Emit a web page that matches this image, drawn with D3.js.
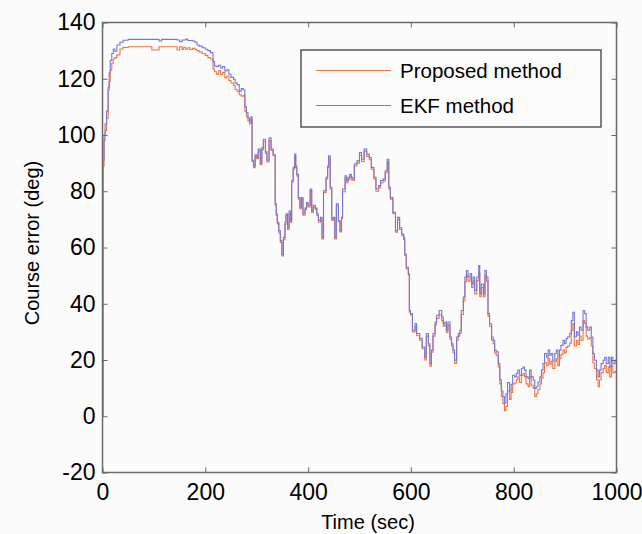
<!DOCTYPE html>
<html>
<head>
<meta charset="utf-8">
<script src="https://cdn.jsdelivr.net/npm/d3@7"></script>
<style>
  html, body { margin: 0; padding: 0; background: #fbfbfb; }
  svg { display: block; }
  text { font-family: "Liberation Sans", Arial, Helvetica, sans-serif; fill: #000; }
</style>
</head>
<body>
<svg id="chart" width="642" height="534"></svg>
<script>
// ---- data ----
const time = [0,1,3,5,8,11,13,15,18,21,24,28,34,40,50,60,70,80,90,96,104,110,115,120,130,140,145,150,155,158,162,166,170,175,180,184,188,194,200,205,210,215,218,222,226,230,234,238,242,246,250,255,258,262,266,270,274,277,280,283,286,289,
291,294,297,300,303,307,310,313,317,320,324,328,332,336,338,340,343,346,349,352,355,357,360,363,366,368,371,374,376,378,381,384,387,390,394,397,400,404,407,410,414,417,420,424,427,430,435,438,440,443,446,449,452,455,459,462,465,467,472,475,478,481,484,487,490,495,500,504,509,514,519,523,528,532,537,541,546,550,554,557,560,565,570,574,578,582,586,588,591,595,597,599,
603,608,611,617,622,627,630,634,637,640,643,647,650,655,660,663,666,669,672,676,679,682,685,689,692,695,698,702,705,708,711,715,718,721,724,728,732,734,737,741,744,747,750,753,757,760,763,766,770,773,776,779,782,785,788,792,795,798,
802,805,808,811,815,818,821,824,828,831,834,838,841,844,847,851,854,857,860,864,867,870,873,876,880,883,886,889,892,896,899,902,905,909,912,915,918,922,925,928,931,935,938,941,944,948,951,954,957,961,964,967,970,974,977,980,984,987,990,993,997,1000];

const ekfError = [0,91,100,104,108.5,117,122,126.5,129,130.6,129.8,132,133,133.7,134,134,134,134,134,134,134,133.4,134,134,134,134,133.8,133.2,133.8,133.8,134.1,133.6,133.6,133.4,133,132,131.6,131,130.5,130,129.3,126,124.5,124.3,124.8,123.8,124.3,122.8,123.2,121.6,120.5,119.8,118.5,117.9,115.6,116.5,116,110,108,106,105,106.5,
91,89,93,92,95,90,95.5,98.5,94,91,99,95,93,75.6,72,69,66,62.5,57.5,63.6,69,72,67,73,69.6,83.8,88.5,93.2,89,86,77.8,74.3,77.8,72,74,76,75,80.8,73,75,74,72,69.6,70.7,63.6,80.2,85,89,92.6,81.4,70.2,70.7,63.6,75.5,69.6,66,70.7,80.8,85.5,83.8,85,86,85,84.4,89.7,90.8,93.8,91.4,95,93.2,92,88.5,85,80.8,82,83.8,84.4,87.3,91.4,81.4,77.8,72.5,66,70.7,67,64.8,63.6,57.8,53,50.7,37.6,36.5,
30.6,33,29.4,27.7,24.6,21,29.4,25.8,18.7,23.5,29.4,33.5,35.9,37.6,35.3,32.9,33.5,30.6,33.5,28.2,25.8,23.5,19.9,28.2,29.4,30.6,37.6,42.4,49.5,51.8,49.5,50.7,47,49.5,44.7,49.5,53.6,43.6,47,43.6,51.8,49.5,36.5,32.9,28.2,27,23.5,22.9,18.7,13,9,7,4.7,8,12,9,11.4,14.6,
14,15.2,16.4,14.6,17,17.5,16.4,14,13.4,16.4,14,12.8,9.9,10.5,12.2,14,16.4,18.7,22.3,21,23.5,21.7,22.3,19.9,22.3,23.5,21,23.5,25.2,27,25.8,27.6,28.2,29.4,34,37,28.2,30,28.8,31.7,30.6,37.6,36.5,31.7,30.6,31.7,28.2,22.3,19.9,16.4,14,16.4,18.7,19.9,21,18.7,21,17.5,21,18.7,19.9,18];

const proposedError = [0,89,98,101.5,106,116,119,123,125.5,127,127.5,128.5,130.6,131.1,131.4,131.4,131.4,131.4,131.4,130.2,130.2,131.4,131.4,131.4,131.4,131.4,130.2,131.4,130.4,131.2,130.5,131,130.4,130.8,130.4,130,129.5,129,128.3,127.5,127,123.5,122.5,121.6,122.8,121.5,122.2,120.4,120.9,119.4,118.5,117.7,116.2,115.4,114.3,113.8,114,108.5,106.5,105,104,105.5,
90.6,88.4,92.4,91.6,94.4,89.4,94.8,97.6,93.4,90.4,98,94.5,92.6,75,71.4,68.4,65.2,61.8,57,62.8,68.2,71.4,66.4,72,68.9,83.2,87.9,92.4,88.5,85.4,77.2,73.8,77.3,71.5,73.5,75.5,74.4,80.2,72.5,74.4,73.5,71.4,69,70.2,63,79.6,84.4,88.4,91.8,80.8,69.6,70.2,63,74.8,69.2,65.5,70.2,79.8,84.8,83,84.3,85.4,84,83.8,89,90,92.8,90.6,94.2,92.4,91.2,87.8,84.4,80,81.3,83,83.6,86.6,90.4,80.8,77.2,72,65.4,70,66.4,64.2,62.8,57.2,52.4,50.2,37.1,36,
30,32,28.6,27,24,20,28.5,25,17.8,22.8,28.5,32.5,34.8,36,34,32,32.4,29.8,32.5,27.3,25,22.5,18.8,27,28.5,29.5,36.2,41,47.8,50,48,49.2,45.8,48.2,43.5,48.2,51,42.5,45.8,42.5,50,48,35.5,32,27,25.8,22.5,21.5,17.5,11.5,7,4.5,2,3.5,9,6,8.5,11.5,
11.8,13,14,12,14.5,15.2,14,11.5,10.5,14,11,10,7,8,9.5,11.5,13.5,15.5,19,18,20.5,18.5,19.5,17,19.5,20.5,18,20.5,22,23.5,22.5,24.5,25,26,30.5,33,25,27,25.5,28.5,27,34,33,28.5,27.5,28,25,19,17,13,10.5,13,15.5,17,18,15.5,17.5,14,18,15.5,16,15];

const seriesNames = ["Proposed method", "EKF method"];
const seriesColors = ["#f2733d", "#7777d6"];
const xTicks = [0, 200, 400, 600, 800, 1000];
const yTicks = [-20, 0, 20, 40, 60, 80, 100, 120, 140];
const xLabel = "Time (sec)";
const yLabel = "Course error (deg)";

(function draw() {
  const svg = d3.select("#chart");
  const pLeft = 102.5, pRight = 616.5, pTop = 22.5, pBottom = 472.5;

  const x = d3.scaleLinear().domain([0, 1000]).range([pLeft, pRight]);
  const y = d3.scaleLinear().domain([-20, 140]).range([pBottom, pTop]);

  svg.append("rect").attr("width", 642).attr("height", 534).attr("fill", "#fbfbfb");

  const series = [
    { name: seriesNames[0], values: proposedError, color: seriesColors[0] },
    { name: seriesNames[1], values: ekfError, color: seriesColors[1] }
  ];
  const line = d3.line()
    .x((d, i) => x(time[i]))
    .y(d => y(d))
    .curve(d3.curveStepAfter);

  svg.append("g").selectAll("path")
    .data(series)
    .join("path")
    .attr("d", s => line(s.values))
    .attr("fill", "none")
    .attr("stroke", s => s.color)
    .attr("stroke-width", 1.1);

  const axisColor = "#6a6a6a";
  const fmt = d => String(d);
  function styleAxis(g, labels) {
    g.select(".domain").remove();
    g.selectAll(".tick line").attr("stroke", axisColor).attr("stroke-width", 1);
    g.selectAll(".tick text").attr("font-size", 23).attr("fill", "#000")
      .attr("font-family", "'Liberation Sans', Arial, sans-serif");
    if (!labels) g.selectAll(".tick text").remove();
  }

  svg.append("g").attr("transform", `translate(0,${pBottom})`)
    .call(d3.axisBottom(x).tickValues(xTicks).tickSize(-5).tickPadding(11).tickFormat(fmt))
    .call(g => styleAxis(g, true));
  svg.append("g").attr("transform", `translate(0,${pTop})`)
    .call(d3.axisTop(x).tickValues(xTicks).tickSize(-5))
    .call(g => styleAxis(g, false));
  svg.append("g").attr("transform", `translate(${pLeft},0)`)
    .call(d3.axisLeft(y).tickValues(yTicks).tickSize(-5).tickPadding(7).tickFormat(fmt))
    .call(g => styleAxis(g, true));
  svg.append("g").attr("transform", `translate(${pRight},0)`)
    .call(d3.axisRight(y).tickValues(yTicks).tickSize(-5))
    .call(g => styleAxis(g, false));

  svg.append("rect")
    .attr("x", pLeft).attr("y", pTop)
    .attr("width", pRight - pLeft).attr("height", pBottom - pTop)
    .attr("fill", "none").attr("stroke", axisColor).attr("stroke-width", 1.5);

  svg.append("text")
    .attr("x", 368).attr("y", 529)
    .attr("text-anchor", "middle").attr("font-size", 20)
    .text(xLabel);
  svg.append("text")
    .attr("transform", "translate(39,243) rotate(-90)")
    .attr("text-anchor", "middle").attr("font-size", 20)
    .text(yLabel);

  const lg = svg.append("g");
  lg.append("rect")
    .attr("x", 301).attr("y", 50).attr("width", 300).attr("height", 77)
    .attr("fill", "#fcfcfc").attr("stroke", "#4a4a4a").attr("stroke-width", 1.4);
  series.forEach((s, i) => {
    const ly = 70.5 + i * 35;
    lg.append("line")
      .attr("x1", 316).attr("x2", 391).attr("y1", ly).attr("y2", ly)
      .attr("stroke", s.color).attr("stroke-width", 1.2);
    lg.append("text")
      .attr("x", 400).attr("y", ly).attr("dy", "0.36em")
      .attr("font-size", 20.5)
      .text(s.name);
  });
})();
</script>
</body>
</html>
